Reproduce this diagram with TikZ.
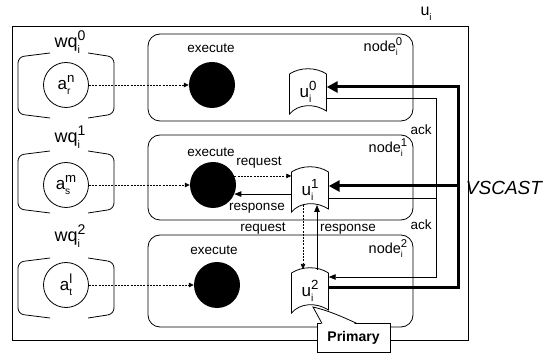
\documentclass[tikz,border=0pt]{standalone}
\usepackage{fontspec}
\usepackage{graphicx}
\setmainfont{Liberation Sans}
\usetikzlibrary{arrows.meta,calc}

% base letter with a subscript and a superscript stacked after it
\newcommand\supsub[3]{#1\rlap{\raisebox{-0.55ex}{\scalebox{0.6}{#2}}}\raisebox{0.75ex}{\scalebox{0.78}{#3}}}

% bracket-like work queue outline: centre x, top y, bottom y
\newcommand\wqshape[3]{%
  \draw[thinline, rounded corners=6pt] ({#1-16},{#2}) -- ({#1-48},{#2+4}) -- ({#1-48},{#3-4}) -- ({#1-16},{#3});
  \draw[thinline, rounded corners=6pt] ({#1+22},{#2}) -- ({#1+48},{#2+4}) -- ({#1+48},{#3-4}) -- ({#1+22},{#3});
}
% replica store outline: centre x, centre y
\newcommand\ushape[2]{%
  \draw[thinline] ({#1-18.5},{#2-18}) .. controls ({#1-8},{#2-25}) and ({#1+8},{#2-25}) .. ({#1+18.5},{#2-18})
    -- ({#1+18.5},{#2+19}) .. controls ({#1+6},{#2+11}) and ({#1-10},{#2+12}) .. ({#1-18.5},{#2+22}) -- cycle;
}

\begin{document}
\begin{tikzpicture}[x=1pt,y=-1pt,
  thinline/.style={line width=0.8pt},
  box/.style={draw, line width=0.8pt, rounded corners=12pt},
  lab/.style={font=\fontsize{13.5}{14}\selectfont, inner sep=0pt},
  qlab/.style={font=\fontsize{18}{19}\selectfont, inner sep=0pt},
  nlab/.style={font=\fontsize{14.5}{15}\selectfont, inner sep=0pt},
  qcirc/.style={circle, draw, line width=0.8pt, minimum size=45pt, inner sep=0pt, font=\fontsize{17}{18}\selectfont},
  exdot/.style={circle, fill=black, minimum size=46pt, inner sep=0pt},
  ubox/.style={minimum width=37pt, minimum height=40pt, inner sep=0pt, font=\fontsize{17}{18}\selectfont},
  dasharrow/.style={line width=0.7pt, dash pattern=on 2pt off 1.2pt, -{Triangle[length=5pt,width=4.5pt]}},
  tarrow/.style={line width=0.8pt, -{Triangle[length=7pt,width=5.5pt]}},
  vsarrow/.style={line width=3pt, line join=miter, -{Triangle[length=11pt,width=11pt]}}
]
\useasboundingbox (0,0) rectangle (549,355);

% enclosing site box
\draw[thinline] (12,26) rectangle (468,340);
\node[nlab, font=\fontsize{16}{17}\selectfont] (ulab) at (425,14) {\supsub{u}{i}{}};

% execution nodes
\draw[box] (148,34) rectangle (413,121);
\draw[box] (148,135) rectangle (413,220);
\draw[box] (148,235) rectangle (413,327);
\node[lab] (exl0) at (211,48) {execute};
\node[lab] (exl1) at (211,152) {execute};
\node[lab] (exl2) at (214,250) {execute};
\node[nlab] (nl0) at (383,47) {node\supsub{}{i}{0}};
\node[nlab] (nl1) at (388,148) {node\supsub{}{i}{1}};
\node[nlab] (nl2) at (388,249) {node\supsub{}{i}{2}};

% work queues
\wqshape{66}{53}{118}
\wqshape{66}{151}{213}
\wqshape{66}{258}{318}
\node[qlab] (wl0) at (70,42) {wq\supsub{}{i}{0}};
\node[qlab] (wl1) at (70,137) {wq\supsub{}{i}{1}};
\node[qlab] (wl2) at (70,236) {wq\supsub{}{i}{2}};
\node[qcirc] (qa0) at (66,85) {\supsub{a}{r}{n}};
\node[qcirc] (qa1) at (66,185) {\supsub{a}{s}{m}};
\node[qcirc] (qa2) at (66,285) {\supsub{a}{t}{l}};

% executors
\node[exdot] (ex0) at (212,85) {};
\node[exdot] (ex1) at (213,185) {};
\node[exdot] (ex2) at (217,285) {};

% replicas
\ushape{308}{92}
\ushape{310}{190}
\ushape{310}{291}
\node[ubox] (u0) at (308,92) {\supsub{u}{i}{0}};
\node[ubox] (u1) at (310,190) {\supsub{u}{i}{1}};
\node[ubox] (u2) at (310,291) {\supsub{u}{i}{2}};

% queue to executor
\draw[dasharrow] (qa0) -- (ex0);
\draw[dasharrow] (qa1) -- (ex1);
\draw[dasharrow] (qa2) -- (ex2);

% request / response inside node 1
\draw[dasharrow] (ex1.23) -- (ex1.23 -| u1.west);
\draw[tarrow] (ex1.-23 -| u1.west) -- (ex1.-23);
\node[lab] (rq1) at (259,163) {request};
\node[lab] (rs1) at (257,208) {response};

% request / response between replica 1 and the primary
\draw[dasharrow] ([xshift=-7pt,yshift=-15pt]u1.center) -- ([xshift=-7pt,yshift=22pt]u2.center);
\draw[tarrow] ([xshift=7pt,yshift=21pt]u2.center) -- ([xshift=7pt,yshift=-15pt]u1.center);
\node[lab] (rq2) at (263,229) {request};
\node[lab] (rs2) at (348,229) {response};

% acknowledgements back to the primary
\coordinate (ackx) at (436,0);
\coordinate (k0) at ([yshift=-6pt]u0.east);
\coordinate (k1) at ([yshift=-8pt]u1.east);
\coordinate (k2) at ([yshift=14pt]u2.east);
\draw[tarrow] (k0) -- (k0 -| ackx) -- (k2 -| ackx) -- (k2);
\draw[thinline] (k1) -- (k1 -| ackx);
\node[lab] (ack0) at (421,130) {ack};
\node[lab] (ack1) at (421,225) {ack};

% VSCAST from the primary to the replicas
\coordinate (vsx) at (458,0);
\coordinate (v0) at ([yshift=5pt]u0.east);
\coordinate (v1) at ([yshift=4pt]u1.east);
\coordinate (v2) at ([yshift=3pt]u2.east);
\draw[vsarrow] (v2) -- (v2 -| vsx) -- (v0 -| vsx) -- (v0);
\draw[vsarrow] (v1 -| vsx) -- (v1);
\node[font=\fontsize{19}{20}\selectfont\itshape, inner sep=0pt] (vscast) at (504,188) {VSCAST};

% primary callout
\node[draw, thinline, fill=white, minimum width=73pt, minimum height=29pt, inner sep=0pt,
      font=\fontsize{14}{15}\selectfont\bfseries] (prim) at (353.5,338) {Primary};
\fill[white] (322,325) -- (313,307) .. controls (330,311) and (345,318) .. (357,325) -- cycle;
\draw[thinline] (322,323.5) -- (313,307) .. controls (330,311) and (345,318) .. (357,323.5);
\end{tikzpicture}
\end{document}
